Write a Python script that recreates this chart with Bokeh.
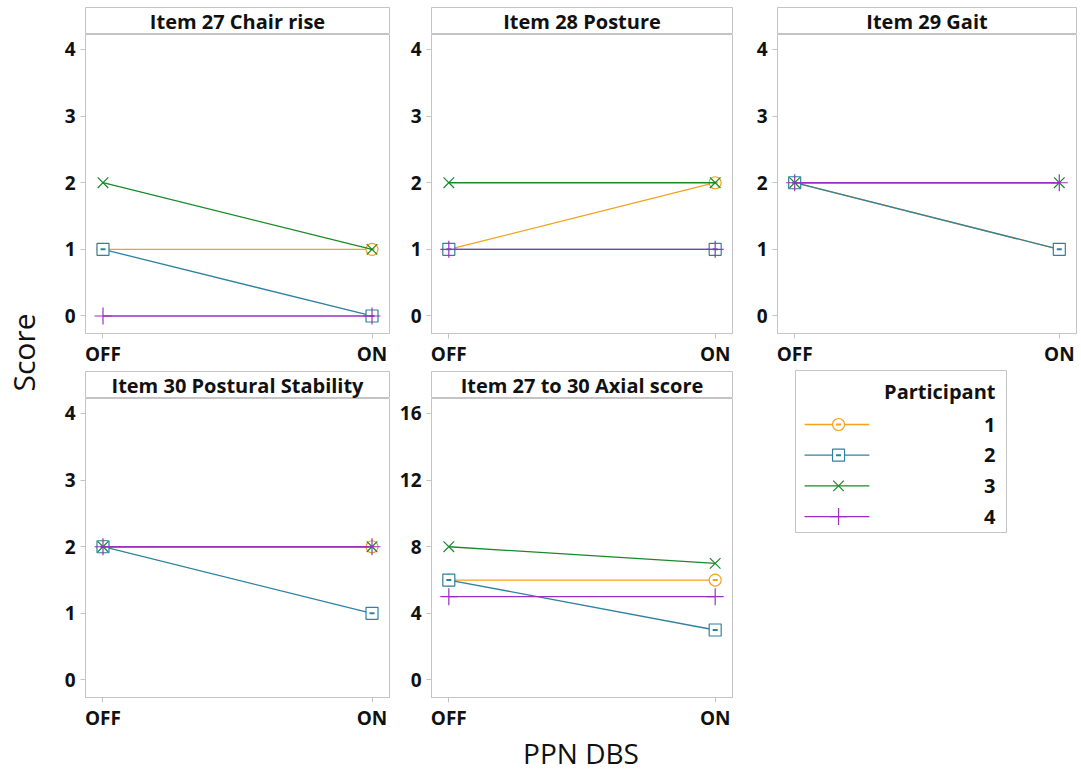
from math import pi

from bokeh.core.properties import value
from bokeh.embed import file_html
from bokeh.layouts import column, row
from bokeh.models import ColumnDataSource, FixedTicker, Range1d
from bokeh.plotting import figure
from bokeh.resources import INLINE

# ---- data -------------------------------------------------------------
conditions = ["OFF", "ON"]
participants = ["1", "2", "3", "4"]

# rows: participants 1-4, columns: OFF, ON
chair_rise = [[1, 1], [1, 0], [2, 1], [0, 0]]
posture = [[1, 2], [1, 1], [2, 2], [1, 1]]
gait = [[2, 1], [2, 1], [2, 2], [2, 2]]
postural_stability = [[2, 2], [2, 1], [2, 2], [2, 2]]
axial_score = [[6, 6], [6, 3], [8, 7], [5, 5]]

item_ticks = [0, 1, 2, 3, 4]
axial_ticks = [0, 4, 8, 12, 16]

# ---- style ------------------------------------------------------------
colors = ["#F4A11D", "#2E82A0", "#178A28", "#9B30C0"]
markers = ["circle", "square", "x", "cross"]
marker_sizes = [12, 12, 15, 17]
FONT = "Open Sans"
GRAY = "#C4C4C4"
INK = "#111111"

HEADER_H = 27
FRAME_H = 299
BOTTOM_B = 37


def bare(fig):
    fig.grid.visible = False
    fig.outline_line_color = None
    fig.background_fill_color = "white"
    fig.border_fill_color = "white"
    return fig


def header(title, left, frame_w, right, top):
    h = figure(width=left + frame_w + right, height=top + HEADER_H,
               x_range=Range1d(0, 1), y_range=Range1d(0, 1),
               x_axis_location=None, y_axis_location=None,
               toolbar_location=None, output_backend="svg",
               min_border_left=left, min_border_right=right,
               min_border_top=top, min_border_bottom=0)
    bare(h)
    h.outline_line_color = GRAY
    h.text(x=[0.5], y=[0.5], text=[title], text_align="center",
           text_baseline="middle", text_font=value(FONT),
           text_font_size="20px", text_font_style="bold", text_color=INK)
    return h


def panel(values, ticks, left, frame_w, right):
    top = max(ticks)
    unit = top / 4
    p = figure(width=left + frame_w + right, height=FRAME_H + BOTTOM_B,
               x_range=Range1d(-0.065, 1.065),
               y_range=Range1d(-0.263 * unit, top + 0.225 * unit),
               toolbar_location=None, output_backend="svg",
               min_border_left=left, min_border_right=right,
               min_border_top=0, min_border_bottom=BOTTOM_B)
    bare(p)
    p.outline_line_color = GRAY
    xs = list(range(len(conditions)))
    for i, pid in enumerate(participants):
        src = ColumnDataSource(dict(x=xs, y=values[i]))
        p.line("x", "y", source=src, line_color=colors[i], line_width=1.3)
        p.scatter("x", "y", source=src, marker=markers[i], size=marker_sizes[i],
                  line_color=colors[i], fill_color="white", line_width=1.2)
        if markers[i] in ("circle", "square"):
            p.scatter("x", "y", source=src, marker="dash", size=5,
                      line_color=colors[i], line_width=2)

    p.xaxis.ticker = FixedTicker(ticks=xs)
    p.xaxis.major_label_overrides = {i: c for i, c in enumerate(conditions)}
    p.yaxis.ticker = FixedTicker(ticks=ticks)
    for ax in (p.xaxis, p.yaxis):
        ax.axis_line_color = GRAY
        ax.major_tick_line_color = GRAY
        ax.major_tick_out = 5
        ax.major_tick_in = 0
        ax.minor_tick_line_color = None
        ax.major_label_text_font = FONT
        ax.major_label_text_font_size = "19px"
        ax.major_label_text_font_style = "bold"
        ax.major_label_text_color = INK
    p.xaxis.major_label_standoff = 2
    p.yaxis.major_label_standoff = 5
    return p


# column geometry (border_left, frame width, border_right)
cols = [(40, 304, 6), (36, 301, 6), (39, 299, 5)]

top_panels = [
    ("Item 27 Chair rise", chair_rise, item_ticks),
    ("Item 28 Posture", posture, item_ticks),
    ("Item 29 Gait", gait, item_ticks),
]
bottom_panels = [
    ("Item 30 Postural Stability", postural_stability, item_ticks),
    ("Item 27 to 30 Axial score", axial_score, axial_ticks),
]

top_row = row(*[
    column(header(t, *cols[k], top=7), panel(v, tk, *cols[k]))
    for k, (t, v, tk) in enumerate(top_panels)
])

bottom_items = [
    column(header(t, *cols[k], top=1), panel(v, tk, *cols[k]))
    for k, (t, v, tk) in enumerate(bottom_panels)
]

# legend box
leg_h = HEADER_H + 1 + FRAME_H + BOTTOM_B
leg = figure(width=343, height=leg_h,
             x_range=Range1d(0, 1), y_range=Range1d(-3.52, 1.76),
             x_axis_location=None, y_axis_location=None,
             toolbar_location=None, output_backend="svg",
             min_border_left=57, min_border_right=75,
             min_border_top=0, min_border_bottom=leg_h - 162)
bare(leg)
leg.outline_line_color = GRAY
leg.text(x=[0.948], y=[1.08], text=["Participant"], text_align="right",
         text_baseline="middle", text_font=value(FONT),
         text_font_size="20px", text_font_style="bold", text_color=INK)
for i, pid in enumerate(participants):
    yy = -i
    leg.line([0.043, 0.35], [yy, yy], line_color=colors[i], line_width=1.3)
    leg.scatter([0.204], [yy], marker=markers[i], size=marker_sizes[i],
                line_color=colors[i], fill_color="white", line_width=1.2)
    if markers[i] in ("circle", "square"):
        leg.scatter([0.204], [yy], marker="dash", size=5,
                    line_color=colors[i], line_width=2)
    leg.text(x=[0.948], y=[yy], text=[pid], text_align="right",
             text_baseline="middle", text_font=value(FONT),
             text_font_size="20px", text_font_style="bold", text_color=INK)

bottom_row = row(*bottom_items, leg)

# shared axis titles
xlab = figure(width=1036, height=37, x_range=Range1d(0, 1), y_range=Range1d(0, 1),
              x_axis_location=None, y_axis_location=None,
              toolbar_location=None, output_backend="svg",
              min_border_left=40, min_border_right=5,
              min_border_top=0, min_border_bottom=0)
bare(xlab)
xlab.text(x=[0.5], y=[0.5], text=["PPN DBS"], text_align="center",
          text_baseline="middle", text_font=value(FONT),
          text_font_size="28px", text_color=INK)

ylab = figure(width=45, height=704, x_range=Range1d(0, 1), y_range=Range1d(0, 1),
              x_axis_location=None, y_axis_location=None,
              toolbar_location=None, output_backend="svg",
              min_border_left=0, min_border_right=0,
              min_border_top=0, min_border_bottom=0)
bare(ylab)
ylab.text(x=[0.5], y=[0.5], text=["Score"], angle=pi / 2, text_align="center",
          text_baseline="middle", text_font=value(FONT),
          text_font_size="30px", text_color=INK)

page = row(ylab, column(top_row, bottom_row, xlab))

with open("out.html", "w") as f:
    f.write(file_html(page, INLINE))
